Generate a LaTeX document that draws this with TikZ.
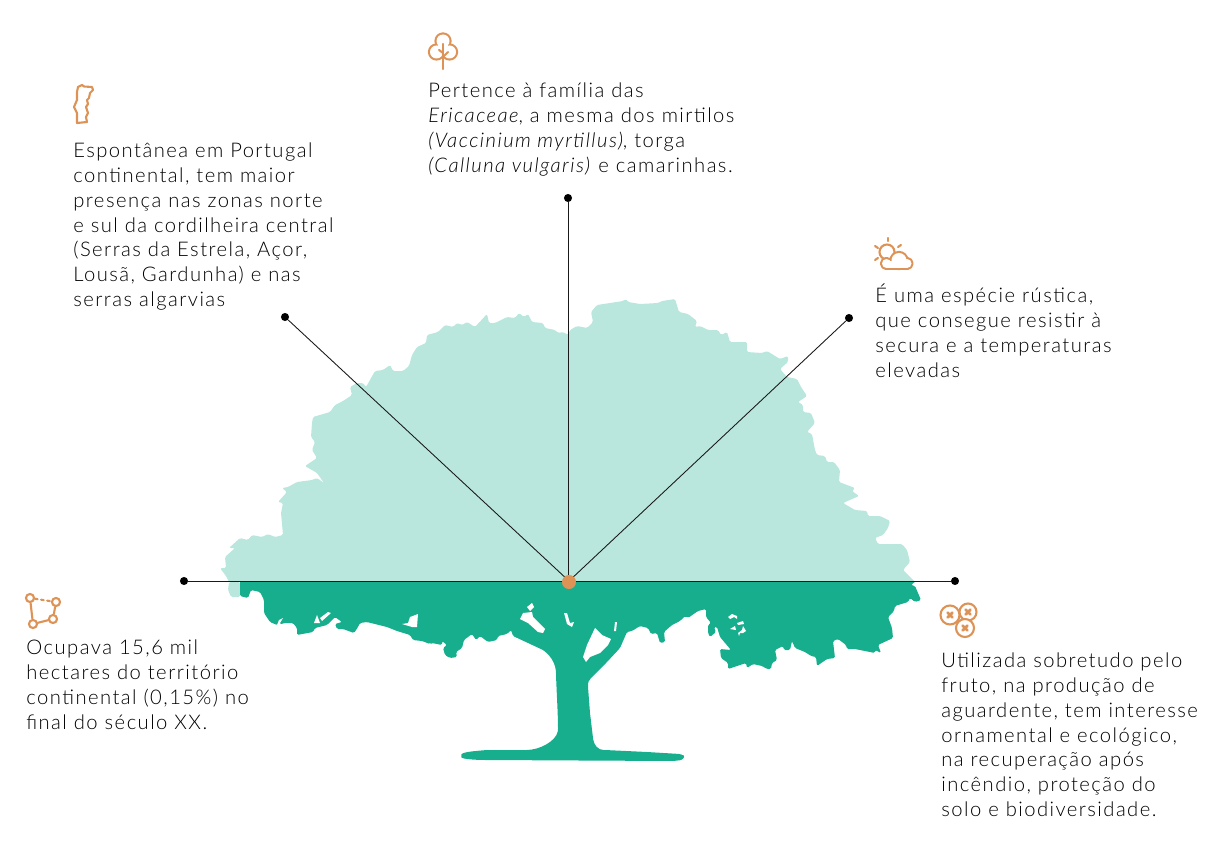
\documentclass[tikz,border=0pt]{standalone}
\usepackage{fontspec}
\setmainfont[LetterSpace=7.2,BoldFont={Lato},ItalicFont={Lato Light Italic}]{Lato Light}
\definecolor{copaclara}{HTML}{BAE7DD}
\definecolor{copaescura}{HTML}{17AE8E}
\definecolor{laranja}{HTML}{DE9356}
\tikzset{
  infotext/.style={anchor=north west, inner sep=0pt, align=left, font=\fontsize{11.5pt}{14.22pt}\selectfont, text=black},
  ponta/.style={circle, fill=black, inner sep=0pt, minimum size=4.6pt},
  ligacao/.style={draw=black!90, line width=0.5pt},
  icone/.style={draw=laranja, line width=1.2pt, line cap=round, line join=round},
  furo/.style={fill=white},
  vertice/.style={circle, draw=laranja, line width=1.2pt, fill=white, inner sep=0pt, minimum size=4.6pt}
}
\begin{document}
\begin{tikzpicture}[x=0.02cm, y=-0.02cm]
  \useasboundingbox (0,0) rectangle (1220,858);

  \fill[copaclara, rounded corners=0.8pt] (240,582) -- (229,582) -- (228,590) -- (231,597) -- (240,597) -- cycle;
  \fill[copaclara, rounded corners=0.8pt] (229,582) -- (226,576) -- (220,568) -- (226,568) -- (225,557) -- (235,548) -- (229,548) -- (240,538) -- (248,540) -- (252,535) -- (262,537) -- (268,534) -- (275,537) -- (283,535) -- (281,513) -- (283,503) -- (278,502) -- (287,492) -- (282,488) -- (288,487) -- (297,482) -- (312,480) -- (317,478) -- (324,483) -- (317,473) -- (305,466) -- (317,458) -- (312,450) -- (315,442) -- (311,437) -- (312,423) -- (313,417) -- (330,412) -- (335,405) -- (343,401) -- (352,395) -- (350,387) -- (357,383) -- (363,383) -- (366,387) -- (375,371) -- (383,370) -- (390,365) -- (393,371) -- (403,371) -- (409,366) -- (412,355) -- (417,347) -- (426,343) -- (427,335) -- (438,332) -- (445,325) -- (453,327) -- (457,323) -- (462,325) -- (467,322) -- (475,327) -- (487,314) -- (489,323) -- (495,323) -- (507,317) -- (515,318) -- (519,313) -- (524,317) -- (528,314) -- (532,322) -- (543,323) -- (545,328) -- (555,330) -- (558,333) -- (563,332) -- (568,335) -- (570,330) -- (577,326) -- (587,328) -- (593,322) -- (591,312) -- (597,305) -- (623,301) -- (626,299) -- (628,302) -- (640,304) -- (658,303) -- (662,301) -- (675,299) -- (679,312) -- (688,314) -- (697,321) -- (695,327) -- (700,326) -- (708,330) -- (718,330) -- (721,335) -- (727,332) -- (730,342) -- (747,342) -- (747,352) -- (762,353) -- (767,351) -- (780,359) -- (788,356) -- (788,362) -- (780,369) -- (787,377) -- (797,379) -- (801,387) -- (807,396) -- (798,402) -- (803,405) -- (803,412) -- (811,413) -- (815,423) -- (807,432) -- (812,434) -- (815,450) -- (817,455) -- (825,456) -- (827,462) -- (834,462) -- (840,470) -- (839,482) -- (855,488) -- (852,491) -- (859,496) -- (843,503) -- (855,510) -- (867,511) -- (868,516) -- (880,516) -- (890,521) -- (888,528) -- (883,535) -- (875,538) -- (878,544) -- (902,544) -- (907,550) -- (910,562) -- (903,570) -- (915,582) -- cycle;

  \fill[copaescura, rounded corners=0.8pt] (240,581) -- (240,596) -- (248,598) -- (251,590) -- (260,592) -- (264,600) -- (264,613) -- (270,622) -- (277,625) -- (285,623) -- (293,623) -- (297,628) -- (297,635) -- (313,632) -- (315,628) -- (327,625) -- (335,617) -- (342,622) -- (335,624) -- (337,629) -- (343,629) -- (354,633) -- (358,627) -- (360,623) -- (367,622) -- (387,627) -- (397,631) -- (410,635) -- (413,640) -- (422,641) -- (430,644) -- (432,643) -- (442,645) -- (442,641) -- (447,645) -- (443,648) -- (445,655) -- (450,658) -- (457,657) -- (456,652) -- (462,648) -- (464,640) -- (472,634) -- (476,640) -- (480,636) -- (488,642) -- (497,640) -- (498,636) -- (507,634) -- (511,630) -- (513,636) -- (528,643) -- (543,650) .. controls (552,657) and (556,665) .. (556,675) .. controls (557,700) and (558,715) .. (558,730) .. controls (556,741) and (540,750) .. (525,750) -- (487,750) .. controls (475,751) and (462,752) .. (461,756) .. controls (462,759) and (475,760) .. (487,760) -- (673,761) -- (682,760) -- (685,756) -- (680,754) -- (647,752) -- (605,750) .. controls (598,750) and (594,745) .. (593,738) -- (590,713) -- (588,687) .. controls (588,682) and (589,680) .. (592,677) -- (607,662) -- (620,648) -- (627,632) -- (632,631) -- (640,626) -- (648,628) -- (651,634) -- (657,633) -- (660,643) -- (665,642) -- (664,632) -- (672,625) -- (680,621) -- (685,616) -- (688,618) -- (698,611) -- (706,609) -- (706,617) -- (711,623) -- (708,625) -- (708,633) -- (710,637) -- (716,632) -- (714,627) -- (717,627) -- (720,637) -- (731,650) -- (720,649) -- (721,658) -- (728,663) -- (728,669) -- (746,663) -- (747,668) -- (753,664) -- (762,666) -- (767,669) -- (771,669) -- (772,663) -- (777,660) -- (775,650) -- (783,646) -- (784,650) -- (790,650) -- (792,641) -- (795,648) -- (805,652) -- (811,656) -- (816,657) -- (817,666) -- (827,659) -- (835,658) -- (833,641) -- (838,639) -- (846,645) -- (847,649) -- (855,649) -- (875,653) -- (875,650) -- (881,653) -- (878,645) -- (893,638) -- (892,628) -- (888,617) -- (894,611) -- (895,606) -- (908,602) -- (910,598) -- (915,602) -- (921,600) -- (915,586) -- (911,585) -- (916,581) -- cycle;

  \fill[furo] (277,625) -- (279,620) -- (283,618) -- (280,623) -- (282,626) -- cycle;
  \fill[furo] (314,623) -- (317,615) -- (320,623) -- cycle;
  \fill[furo] (320,618) -- (328,612) -- (331,613) -- (322,621) -- cycle;
  \fill[furo] (402,624) -- (408,623) -- (410,617) -- (418,614) -- (417,627) -- (412,627) -- cycle;
  \fill[furo] (527,607) -- (532,603) -- (534,607) -- (530,611) -- cycle;
  \fill[furo] (520,619) -- (523,613) -- (532,612) -- (533,617) -- (545,629) -- (543,633) -- (538,632) -- (528,623) -- cycle;
  \fill[furo] (564,613) -- (567,613) -- (570,623) -- (574,622) -- (572,627) -- (567,624) -- cycle;
  \fill[furo] (615,622) -- (617,622) -- (616,631) -- (614,631) -- cycle;
  \fill[furo] (595,628) -- (602,635) -- (611,639) -- (608,645) -- (600,653) -- (590,657) -- (586,662) -- (583,657) -- (587,645) -- cycle;
  \fill[furo] (728,617) -- (732,614) -- (737,616) -- (737,619) -- (734,617) -- (730,619) -- cycle;
  \fill[furo] (737,623) -- (743,621) -- (744,624) -- (738,625) -- cycle;
  \fill[furo] (730,629) -- (735,626) -- (736,630) -- cycle;
  \fill[furo] (738,633) -- (742,630) -- (743,626) -- (746,631) -- (743,633) -- (740,633) -- (739,636) -- cycle;

  \node[ponta] (pontaesp) at (285,317) {};
  \node[ponta] (pontafam) at (568,198) {};
  \node[ponta] (pontarus) at (849,318) {};
  \node[ponta] (pontaocu) at (184,581) {};
  \node[ponta] (pontauti) at (955,581) {};
  \coordinate (meio) at (569,581);
  \draw[ligacao] (pontaocu) -- (pontauti);
  \draw[ligacao] (meio) -- (pontaesp);
  \draw[ligacao] (568,581) -- (pontafam);
  \draw[ligacao] (meio) -- (pontarus);
  \node[circle, fill=laranja, inner sep=0pt, minimum size=8pt] (centro) at (569,582) {};

  \node[infotext] (textoesp) at (73,142) {Espontânea em Portugal\\continental, tem maior\\presença nas zonas norte\\e sul da cordilheira central\\(Serras da Estrela, Açor,\\Lousã, Gardunha) e nas\\serras algarvias};
  \node[infotext] (textofam) at (428,82) {Pertence à família das\\\textit{Ericaceae}, a mesma dos mirtilos\\\textit{(Vaccinium myrtillus)}, torga\\\textit{(Calluna vulgaris)} e camarinhas.};
  \node[infotext] (textorus) at (875,284) {É uma espécie rústica,\\que consegue resistir à\\secura e a temperaturas\\elevadas};
  \node[infotext] (textoocu) at (26,639) {Ocupava 15,6 mil\\hectares do território\\continental (0,15\%) no\\final do século XX.};
  \node[infotext] (textouti) at (941,652) {Utilizada sobretudo pelo\\fruto, na produção de\\aguardente, tem interesse\\ornamental e ecológico,\\na recuperação após\\incêndio, proteção do\\solo e biodiversidade.};

  \draw[icone] (78,87) -- (82,85) -- (84,86.5) -- (92,87) -- (93,90) -- (90,93) -- (89,98) -- (87,100) -- (88,104) -- (86,107) -- (88,113) -- (86,117) -- (87,122) -- (77,123) -- (77,113) -- (74,107) -- (77,100) -- (77,92) -- cycle;

  \foreach \cx/\cy in {436.5/52, 443/41, 449.5/52} \draw[icone, line width=2.4pt] (\cx,\cy) circle (6.5);
  \foreach \cx/\cy in {436.5/52, 443/41, 449.5/52} \fill[white] (\cx,\cy) circle (6.5);
  \fill[white] (438,45) rectangle (448,54);
  \draw[icone] (443,44) -- (443,69);
  \draw[icone] (443,57) -- (448,52);
  \draw[icone] (443,53) -- (439,50);

  \draw[icone] (887,252) circle (7.5);
  \draw[icone] (888,238) -- (888,241);
  \draw[icone] (875,246) -- (878,248);
  \draw[icone] (875,260) -- (878,258);
  \draw[icone] (898,247) -- (901,245);
  \foreach \cx/\cy/\rr in {886.5/263.5/4.5, 899/260.5/7.5, 907/263.5/4.5} \draw[icone, line width=2.4pt] (\cx,\cy) circle (\rr);
  \draw[icone, line width=2.4pt] (886.5,261) rectangle (907,268);
  \foreach \cx/\cy/\rr in {886.5/263.5/4.5, 899/260.5/7.5, 907/263.5/4.5} \fill[white] (\cx,\cy) circle (\rr);
  \fill[white] (886.5,261) rectangle (907,268);

  \node[vertice] (verta) at (30,598) {};
  \node[vertice] (vertb) at (56,602) {};
  \node[vertice] (vertc) at (53,619) {};
  \node[vertice] (vertd) at (33,624) {};
  \draw[icone, dash pattern=on 1.5pt off 2pt] (verta) -- (vertb);
  \draw[icone] (vertb) -- (vertc);
  \draw[icone] (vertc) -- (vertd);
  \draw[icone] (vertd) -- (verta);

  \foreach \cx/\cy/\rr in {968/612/8.5, 950/615/9.5, 965/628/9} {
    \draw[icone, fill=white] (\cx,\cy) circle (\rr);
    \draw[icone, line width=1.6pt] (\cx-2.4,\cy-2.4) -- (\cx+2.4,\cy+2.4);
    \draw[icone, line width=1.6pt] (\cx+2.4,\cy-2.4) -- (\cx-2.4,\cy+2.4);
  }
\end{tikzpicture}
\end{document}
